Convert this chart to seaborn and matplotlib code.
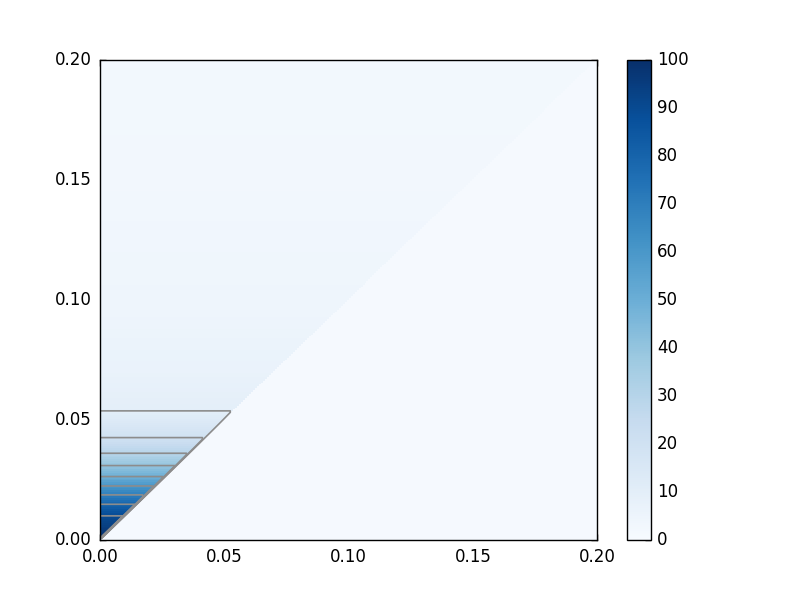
import numpy as np
import matplotlib
matplotlib.use("Agg")
import matplotlib.pyplot as plt
import seaborn as sns

# ---- data ----
# value profile along y in the region x < y (contour levels 10..90 read at their heights)
profile_y = [0.0, 0.0101, 0.0149, 0.0188, 0.0225, 0.0264, 0.0310, 0.0361, 0.0426, 0.0535, 0.070, 0.100, 0.150, 0.200]
profile_v = [100, 90, 80, 70, 60, 50, 40, 30, 20, 10, 7.0, 4.5, 3.0, 2.3]
lower_value = 1.5          # nearly flat value in the region x > y
contour_levels = [10, 20, 30, 40, 50, 60, 70, 80, 90]
tick_values = [0.00, 0.05, 0.10, 0.15, 0.20]
tick_labels = ["0.00", "0.05", "0.10", "0.15", "0.20"]
cbar_ticks = [0, 10, 20, 30, 40, 50, 60, 70, 80, 90, 100]
extent = 0.2
n_cells = 250

# ---- build the field ----
centers = (np.arange(n_cells) + 0.5) / n_cells * extent
X, Y = np.meshgrid(centers, centers)
Z = np.where(X < Y, np.interp(Y, profile_y, profile_v), lower_value)

plt.style.use("classic")
sns.set_style("ticks", {"xtick.direction": "in", "ytick.direction": "in"})
plt.rcParams["font.family"] = ["DejaVu Sans"]
plt.rcParams["font.size"] = 12
plt.rcParams["text.color"] = "black"
plt.rcParams["xtick.color"] = "black"
plt.rcParams["ytick.color"] = "black"
plt.rcParams["axes.labelcolor"] = "black"

fig = plt.figure(figsize=(8, 6), dpi=100, facecolor="white")
ax = fig.add_axes([0.125, 0.1, 0.6215, 0.8])
cax = fig.add_axes([0.784, 0.1, 0.030, 0.8])

sns.heatmap(Z, ax=ax, cbar_ax=cax, cmap="Blues", vmin=0, vmax=100,
            xticklabels=False, yticklabels=False, cbar=True)
ax.invert_yaxis()  # row 0 (y = 0) at the bottom

# contour lines in cell-index coordinates
idx = np.arange(n_cells) + 0.5
ax.contour(idx, idx, Z, levels=contour_levels, colors="0.55", linewidths=1.2)

ax.set_xlim(0, n_cells)
ax.set_ylim(0, n_cells)
pos = [v / extent * n_cells for v in tick_values]
ax.set_xticks(pos)
ax.set_xticklabels(tick_labels)
ax.set_yticks(pos)
ax.set_yticklabels(tick_labels)
ax.set_xlabel("")
ax.set_ylabel("")
for s in ax.spines.values():
    s.set_visible(True)
    s.set_color("black")
    s.set_linewidth(1.0)
ax.tick_params(direction="in", length=4, width=1, top=True, right=True,
               labelsize=12, colors="black", pad=6)

cb = ax.collections[0].colorbar
cb.outline.set_linewidth(1.0)
cb.outline.set_edgecolor("black")
cb.outline.set_visible(True)
cb.set_ticks(cbar_ticks)
cax.tick_params(direction="in", length=4, width=1, labelsize=12, right=True,
                left=False, pad=4, colors="black", labelcolor="black")

fig.savefig("out.png", dpi=100, facecolor="white")
